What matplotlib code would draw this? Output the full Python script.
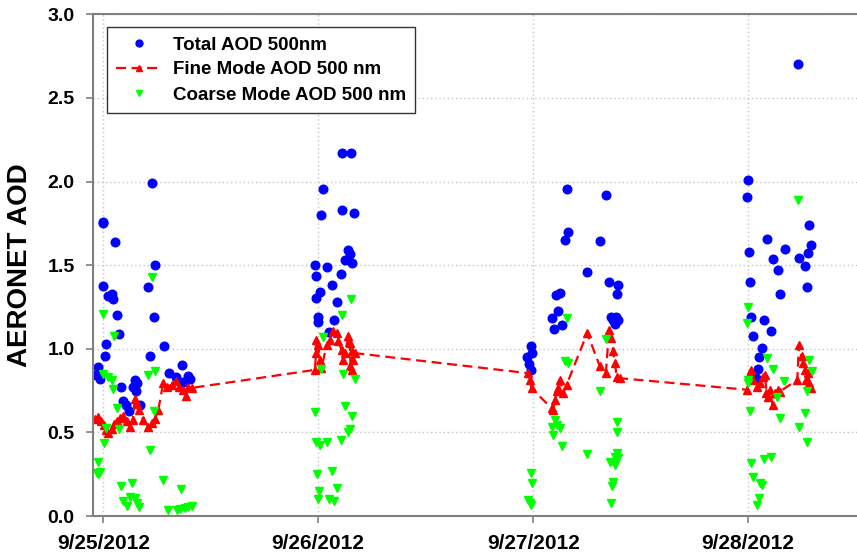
import numpy as np
import matplotlib
matplotlib.use("Agg")
import matplotlib.pyplot as plt

# Time of each sample, in days after 9/25/2012 00:00
total_days = [
    0.229, 0.0, 0.0, 0.053, 0.242, -0.003, 0.023, 0.042, 0.045, 0.209, 0.064, 0.236,
    0.074, 0.013, 0.282, 0.008, 0.219, -0.026, -0.034, -0.015, 0.365, 0.337, 0.369,
    0.395, 0.405, 0.307, 0.084, 0.147, 0.155, 0.137, 0.152, 0.093, 0.106, 0.118, 0.171,
    1.109, 1.152, 1.020, 1.014, 1.111, 1.167, 1.137, 1.148, 1.126, 1.157, 0.986, 1.039,
    0.989, 1.104, 1.062, 1.008, 0.989, 1.086, 1.0, 1.0, 1.073, 1.05,
    2.155, 2.338, 2.160, 2.147, 2.312, 2.251, 2.353, 2.392, 2.391, 2.104, 2.124, 2.085,
    2.116, 2.096, 2.136, 2.360, 2.372, 2.380, 2.395, 2.385, 1.989, 1.995, 1.972, 1.980,
    1.988,
    3.231, 2.999, 2.995, 3.282, 3.293, 3.279, 3.086, 3.002, 3.169, 3.115, 3.137, 3.237,
    3.264, 3.008, 3.147, 3.272, 3.014, 3.074, 3.106, 3.022, 3.064, 3.051, 3.045, 3.036,
]
total_aod = [
    1.99, 1.76, 1.75, 1.64, 1.50, 1.377, 1.317, 1.33, 1.30, 1.37, 1.20, 1.19,
    1.09, 1.03, 1.016, 0.958, 0.954, 0.89, 0.842, 0.822, 0.90, 0.834, 0.80,
    0.838, 0.818, 0.854, 0.772, 0.814, 0.794, 0.77, 0.75, 0.69, 0.663, 0.625, 0.665,
    2.17, 2.17, 1.956, 1.80, 1.83, 1.81, 1.59, 1.567, 1.533, 1.513, 1.50, 1.49,
    1.435, 1.447, 1.379, 1.341, 1.305, 1.28, 1.19, 1.158, 1.17, 1.10,
    1.958, 1.918, 1.697, 1.653, 1.645, 1.457, 1.397, 1.383, 1.329, 1.321, 1.335, 1.184,
    1.224, 1.118, 1.142, 1.19, 1.17, 1.15, 1.17, 1.19, 1.014, 0.974, 0.95, 0.91,
    0.874,
    2.705, 2.012, 1.908, 1.74, 1.623, 1.573, 1.657, 1.581, 1.599, 1.537, 1.469, 1.541,
    1.493, 1.401, 1.325, 1.369, 1.192, 1.172, 1.106, 1.074, 1.004, 0.948, 0.878, 0.824,
]

fine_days = [
    -0.039, -0.023, -0.012, 0.003, 0.013, 0.023, 0.039, 0.050, 0.065, 0.078, 0.093,
    0.109, 0.124, 0.137, 0.147, 0.155, 0.168, 0.186, 0.209, 0.225, 0.240, 0.256,
    0.279, 0.298, 0.318, 0.338, 0.354, 0.369, 0.385, 0.395, 0.411,
    0.985, 0.989, 0.989, 1.0, 1.008, 1.015, 1.039, 1.054, 1.070, 1.085, 1.093,
    1.109, 1.116, 1.124, 1.140, 1.147, 1.150, 1.155, 1.158, 1.163, 1.171,
    1.977, 1.985, 1.992, 2.085, 2.093, 2.101, 2.109, 2.116, 2.124, 2.140, 2.155,
    2.251, 2.310, 2.338, 2.353, 2.364, 2.372, 2.380, 2.388, 2.403,
    2.995, 3.008, 3.015, 3.023, 3.039, 3.054, 3.067, 3.078, 3.085, 3.093, 3.101,
    3.113, 3.124, 3.140, 3.147, 3.228, 3.236, 3.248, 3.256, 3.264, 3.271, 3.279,
    3.284, 3.294,
]
fine_aod = [
    0.579, 0.595, 0.571, 0.545, 0.515, 0.495, 0.519, 0.551, 0.571, 0.585, 0.599,
    0.571, 0.531, 0.575, 0.699, 0.671, 0.631, 0.575, 0.535, 0.559, 0.579, 0.635,
    0.798, 0.774, 0.784, 0.810, 0.770, 0.754, 0.719, 0.770, 0.766,
    0.874, 0.974, 1.054, 1.024, 0.934, 0.884, 1.024, 1.054, 1.104, 1.094, 1.044,
    0.994, 0.934, 0.974, 1.074, 1.034, 0.894, 0.874, 0.984, 0.934, 0.974,
    0.854, 0.814, 0.764, 0.645, 0.635, 0.695, 0.745, 0.764, 0.814, 0.735, 0.784,
    1.094, 0.894, 0.858, 1.114, 1.064, 0.984, 0.914, 0.834, 0.824,
    0.755, 0.854, 0.874, 0.814, 0.774, 0.794, 0.834, 0.844, 0.735, 0.714, 0.754,
    0.665, 0.735, 0.754, 0.744, 0.814, 1.024, 0.954, 0.914, 0.874, 0.814, 0.854,
    0.794, 0.764,
]

coarse_days = [
    0.228, 0.0, 0.051, -0.003, 0.023, 0.039, 0.046, 0.209, 0.240, 0.062, 0.236, 0.011,
    0.074, 0.005, 0.217, -0.023, -0.030, -0.015, -0.023, 0.279, 0.084, 0.135, 0.361,
    0.093, 0.109, 0.124, 0.147, 0.158, 0.168, 0.302, 0.341, 0.357, 0.380, 0.395, 0.411,
    1.152, 1.11, 1.02, 1.011, 1.115, 1.169, 0.986, 1.124, 1.155, 1.147, 1.137, 1.104,
    0.989, 1.008, 1.039, 0.993, 1.062, 1.005, 1.086, 0.997, 1.051, 1.074,
    2.155, 2.338, 2.147, 2.163, 2.310, 2.101, 2.085, 2.109, 2.124, 2.093, 2.136, 2.251,
    2.391, 2.391, 2.388, 2.380, 2.357, 2.380, 2.395, 2.372, 2.367, 2.364, 1.989, 1.992,
    1.977, 1.985, 1.989,
    3.231, 2.999, 2.993, 3.086, 3.284, 3.295, 3.116, 2.999, 3.0, 3.167, 3.274, 3.135,
    3.008, 3.264, 3.147, 3.237, 3.272, 3.012, 3.074, 3.104, 3.020, 3.054, 3.062, 3.049,
    3.042,
]
coarse_aod = [
    1.43, 1.21, 1.074, 0.85, 0.83, 0.815, 0.76, 0.846, 0.87, 0.645, 0.63, 0.529,
    0.52, 0.435, 0.395, 0.325, 0.26, 0.265, 0.25, 0.216, 0.18, 0.196, 0.16,
    0.09, 0.06, 0.115, 0.105, 0.08, 0.052, 0.036, 0.036, 0.04, 0.046, 0.056, 0.06,
    1.30, 1.20, 1.07, 0.882, 0.85, 0.822, 0.623, 0.655, 0.60, 0.523, 0.50, 0.455,
    0.445, 0.425, 0.445, 0.25, 0.27, 0.15, 0.166, 0.104, 0.102, 0.092,
    1.184, 1.058, 0.924, 0.914, 0.749, 0.575, 0.535, 0.545, 0.525, 0.485, 0.419, 0.371,
    0.565, 0.505, 0.375, 0.355, 0.325, 0.305, 0.345, 0.205, 0.18, 0.08, 0.255, 0.2,
    0.096, 0.076, 0.066,
    1.892, 1.25, 1.154, 0.944, 0.934, 0.868, 0.878, 0.814, 0.794, 0.81, 0.75, 0.71,
    0.625, 0.615, 0.589, 0.535, 0.441, 0.319, 0.341, 0.355, 0.235, 0.196, 0.186, 0.106,
    0.066,
]

tick_days = [0, 1, 2, 3]
tick_labels = ["9/25/2012", "9/26/2012", "9/27/2012", "9/28/2012"]
y_ticks = [0.0, 0.5, 1.0, 1.5, 2.0, 2.5, 3.0]

BASE = np.datetime64("2012-09-25T00:00:00")


def to_time(days):
    """Convert day offsets to datetime64 values."""
    secs = np.round(np.asarray(days, dtype=float) * 86400).astype("timedelta64[s]")
    return BASE + secs


plt.rcParams["font.family"] = ["Liberation Sans", "DejaVu Sans"]
plt.rcParams["font.weight"] = "bold"

fig = plt.figure(figsize=(8.57, 5.52), dpi=100)
ax = fig.add_axes([0.1082, 0.0652, 0.8918, 0.9089])

ax.plot(to_time(total_days), total_aod, linestyle="none", marker="o",
        markersize=6.2, color="#0000ff", label="Total AOD 500nm")
ax.plot(to_time(fine_days), fine_aod, linestyle=(0, (4.5, 2.5)), linewidth=1.6,
        marker="^", markersize=6.2, color="#ff0000",
        label="Fine Mode AOD 500 nm")
ax.plot(to_time(coarse_days), coarse_aod, linestyle="none", marker="v",
        markersize=6.2, color="#00ff00", label="Coarse Mode AOD 500 nm")

ax.set_xlim(to_time([-0.049])[0], to_time([3.506])[0])
ax.set_ylim(0, 3.0)
ax.set_xticks(to_time(tick_days))
ax.set_xticklabels(tick_labels)
ax.set_yticks(y_ticks)
ax.set_yticklabels([f"{v:.1f}" for v in y_ticks])

ax.tick_params(axis="x", direction="out", length=5, width=1.2, color="#808080",
               labelsize=15, pad=8)
ax.tick_params(axis="y", direction="out", length=5, width=1.2, color="#808080",
               labelsize=14, pad=8)
for lbl in ax.get_xticklabels() + ax.get_yticklabels():
    lbl.set_fontweight("bold")

ax.grid(True, linestyle=(0, (1, 2)), color="#c4c4c4", linewidth=1.0)
ax.set_axisbelow(True)

for side in ["left", "bottom", "top"]:
    ax.spines[side].set_color("#808080")
    ax.spines[side].set_linewidth(1.5)
ax.spines["right"].set_visible(False)

fig.text(20 / 857, 1 - 265 / 552, "AERONET AOD", rotation=90, ha="center",
         va="center", fontsize=20, fontweight="bold")

leg = ax.legend(loc="upper left", bbox_to_anchor=(107 / 857, 1 - 27 / 552),
                bbox_transform=fig.transFigure, borderaxespad=0,
                prop={"size": 13.5, "weight": "bold"}, fancybox=False,
                framealpha=1, edgecolor="#333333", handlelength=2.4,
                handletextpad=0.6, labelspacing=0.42, borderpad=0.5,
                markerscale=0.8)
leg.get_frame().set_linewidth(1.0)

fig.savefig("out.png", dpi=100)
